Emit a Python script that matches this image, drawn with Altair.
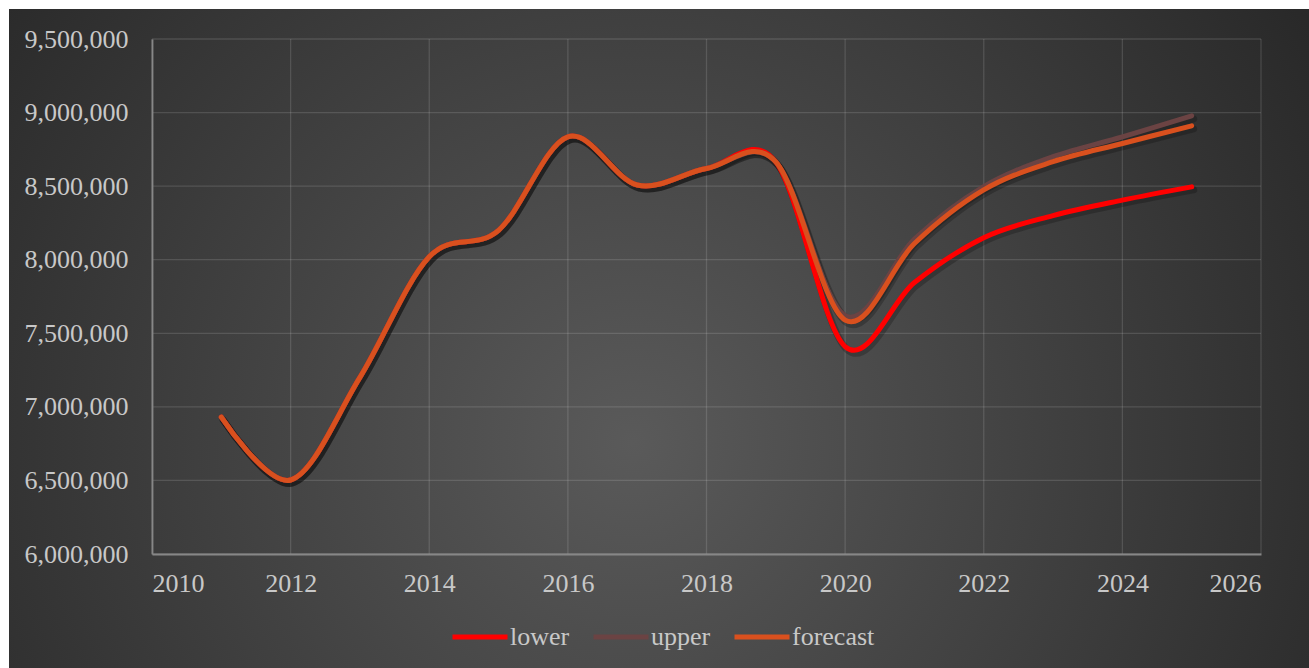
import altair as alt
import pandas as pd

# ---- data (values in persons) ----
years = list(range(2011, 2026))
forecast = [6930000, 6503000, 7200000, 8020000, 8200000, 8835000, 8508000, 8620000,
            8665000, 7590000, 8110000, 8474000, 8666000, 8790000, 8910000]
upper = [6930000, 6503000, 7200000, 8020000, 8200000, 8835000, 8508000, 8620000,
         8665000, 7620000, 8140000, 8497000, 8700000, 8835000, 8978000]
lower = [6930000, 6503000, 7200000, 8020000, 8200000, 8835000, 8508000, 8620000,
         8665000, 7410000, 7845000, 8150000, 8300000, 8405000, 8495000]

series_names = ["lower", "upper", "forecast"]
series_colors = ["#ff0000", "#6b4343", "#d9501e"]

x_ticks = list(range(2010, 2027, 2))
y_ticks = [6000000, 6500000, 7000000, 7500000, 8000000, 8500000, 9000000, 9500000]

rows = []
for name, vals in zip(series_names, [lower, upper, forecast]):
    for yr, v in zip(years, vals):
        rows.append({"year": yr, "value": v, "series": name})
df = pd.DataFrame(rows)

FONT = "Liberation Serif"
TXT = "#c8c8c8"
FS = 26

xscale = alt.Scale(domain=[2010, 2026], nice=False, zero=False)
yscale = alt.Scale(domain=[6000000, 9500000], nice=False, zero=False)

bg = alt.Chart(pd.DataFrame({"a": [0]})).mark_rect(
    fill=alt.Gradient(
        gradient="radial",
        stops=[alt.GradientStop(color="#5a5a5a", offset=0),
               alt.GradientStop(color="#252525", offset=1)],
        x1=0.48, y1=0.58, r1=0, x2=0.48, y2=0.58, r2=0.66,
    )
).encode(x=alt.value(-143), x2=alt.value(1157), y=alt.value(-30), y2=alt.value(629))

vgrid = alt.Chart(pd.DataFrame({"year": x_ticks})).mark_rule(
    color="white", opacity=0.13, strokeWidth=1.3
).encode(x=alt.X("year:Q", scale=xscale))

hgrid = alt.Chart(pd.DataFrame({"value": y_ticks})).mark_rule(
    color="white", opacity=0.13, strokeWidth=1.3
).encode(y=alt.Y("value:Q", scale=yscale))

shadow = alt.Chart(df).mark_line(
    interpolate="cardinal", color="black", opacity=0.22, strokeWidth=7,
    xOffset=2, yOffset=3, strokeCap="round"
).encode(
    x=alt.X("year:Q", scale=xscale),
    y=alt.Y("value:Q", scale=yscale),
    detail="series:N",
)

color = alt.Color(
    "series:N",
    scale=alt.Scale(domain=series_names, range=series_colors),
    legend=alt.Legend(
        title=None, orient="none", direction="horizontal",
        legendX=298, legendY=568,
        symbolType="stroke", symbolSize=3025, symbolStrokeWidth=5,
        labelFont=FONT, labelFontSize=FS, labelColor=TXT,
        labelOffset=0, columnPadding=13, zindex=1,
    ),
)

lines = []
for name in series_names:
    lines.append(
        alt.Chart(df).transform_filter(alt.datum.series == name).mark_line(
            interpolate="cardinal", strokeWidth=5, strokeCap="round"
        ).encode(
            x=alt.X("year:Q", scale=xscale,
                    axis=alt.Axis(title=None, values=x_ticks, format="d", grid=False,
                                  ticks=False, tickSize=0, labelPadding=16,
                                  labelFont=FONT, labelFontSize=FS, labelColor=TXT,
                                  domainColor="#878787", domainWidth=1.8, zindex=1)),
            y=alt.Y("value:Q", scale=yscale,
                    axis=alt.Axis(title=None, values=y_ticks, format=",.0f", grid=False,
                                  ticks=False, tickSize=0, labelPadding=24,
                                  labelFont=FONT, labelFontSize=FS, labelColor=TXT,
                                  domainColor="#878787", domainWidth=1.8, zindex=1)),
            color=color,
        )
    )

chart = alt.layer(bg, vgrid, hgrid, shadow, *lines).properties(
    width=1109, height=515,
    padding={"left": 152, "top": 39, "right": 48, "bottom": 114},
    autosize=alt.AutoSizeParams(type="none"),
    background="white",
).configure_view(stroke=None)

chart.save("out.html", embed_options={"renderer": "svg", "actions": False})
